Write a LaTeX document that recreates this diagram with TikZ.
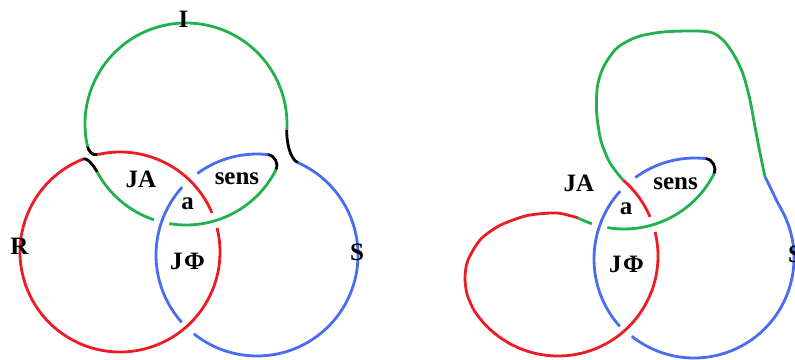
\documentclass[tikz,border=0pt]{standalone}
\usepackage{fontspec}
\setmainfont{Liberation Serif}
\usetikzlibrary{calc}
\definecolor{kr}{HTML}{ED1C24}
\definecolor{kg}{HTML}{22B14C}
\definecolor{kb}{HTML}{4A6CF0}
\begin{document}
\begin{tikzpicture}[x=1pt,y=1pt,line width=2.8pt,
  lbl/.style={font=\fontsize{25}{30}\selectfont\bfseries, inner sep=0pt, anchor=base}]
\clip (0,0) rectangle (795,359);
\fill[white] (0,0) rectangle (795,359);
% ---------- left figure ----------
\coordinate (Rc) at (120,107);
\coordinate (Ic) at (186,235);
\coordinate (Sc) at (257,104);
\coordinate (gA) at ($(Ic)+(193.1:101)$);
\coordinate (gB) at ($(Ic)+(-3.5:101)$);
\coordinate (rA) at ($(Rc)+(103.2:100)$);
\coordinate (rB) at ($(Rc)+(111.7:100)$);
\coordinate (rC) at ($(Rc)+(13.9:100)$);
\coordinate (gC) at ($(Ic)+(208.3:101)$);
\coordinate (gD) at ($(Ic)+(333.2:101)$);
\coordinate (gF) at ($(Ic)+(260.5:101)$);
\coordinate (bA) at ($(Sc)+(66.2:101)$);
\coordinate (bB) at ($(Sc)+(83.8:101)$);
\coordinate (bC) at ($(Sc)+(126.2:101)$);
\coordinate (bD) at ($(Sc)+(221.8:101)$);

\draw[kg] (gA) arc[start angle=193.1, end angle=-3.5, radius=101];
\draw[kr] (rA) arc[start angle=103.2, end angle=23, radius=100];
\draw[kr] (rC) arc[start angle=13.9, end angle=-248.3, radius=100];
\draw[kg] (gC) arc[start angle=208.3, end angle=251.5, radius=101];
\draw[kg] (gF) arc[start angle=260.5, end angle=333.2, radius=101];
\draw[kb] (bA) arc[start angle=66.2, end angle=-128.7, radius=101];
\draw[kb] (bD) arc[start angle=221.8, end angle=137.8, radius=101];
\draw[kb] (bC) arc[start angle=126.2, end angle=83.8, radius=101];

\draw[black] (gA) .. controls +(0.9,-3.9) and +(-4.9,-1.1) .. (rA);
\draw[black] (rB) .. controls +(4.6,1.9) and +(-2.8,5.3) .. (gC);
\draw[black] (gB) .. controls +(-0.5,-10) and +(-8.2,3.6) .. (bA);
\draw[black] (bB) .. controls +(7,-0.8) and +(2.7,5.4) .. (gD);

\node[lbl] (tI) at (183.5,331) {I};
\node[lbl] (tR) at (19.5,104) {R};
\node[lbl] (tS) at (357,99) {S};
\node[lbl] (tJA) at (141,171) {JA};
\node[lbl] (tsens) at (237,174) {sens};
\node[lbl] (ta) at (187.5,149) {a};
\node[lbl] (tJP) at (187.5,89) {J\kern1.5ptΦ};

% ---------- right figure ----------
\coordinate (Rc2) at (558,103);
\coordinate (Ic2) at (624,231);
\coordinate (Sc2) at (695,100);
\coordinate (Sc3) at (694,101);
\coordinate (J1) at ($(Rc2)+(49.5:100)$);
\coordinate (J2) at (765,182);
\coordinate (rC2) at ($(Rc2)+(13.9:100)$);
\coordinate (rE) at ($(Rc2)+(212:100)$);
\coordinate (gE) at ($(Ic2)+(243:101)$);
\coordinate (gF2) at ($(Ic2)+(260.5:101)$);
\coordinate (gD2) at ($(Ic2)+(333.2:101)$);
\coordinate (bB2) at ($(Sc2)+(83.8:101)$);
\coordinate (bC2) at ($(Sc2)+(126.2:101)$);
\coordinate (bD2) at ($(Sc2)+(221.8:101)$);
\coordinate (bE) at ($(Sc3)+(30:100)$);

\draw[kr] (J1) arc[start angle=49.5, end angle=23, radius=100];
\draw[kr] (rC2) arc[start angle=13.9, end angle=-148, radius=100];
\draw[kr] plot[smooth] coordinates {(rE) (467,65) (465,82) (468,99) (480,119) (497,132) (513,139) (530,144) (557,146) (gE)};
\draw[kg] (gE) arc[start angle=243, end angle=251.5, radius=101];
\draw[kg] (gF2) arc[start angle=260.5, end angle=333.2, radius=101];
\draw[kb] (bC2) arc[start angle=126.2, end angle=83.8, radius=101];
\draw[kb] (bD2) arc[start angle=221.8, end angle=137.8, radius=101];
\draw[kb] (J2) .. controls +(4,-7) and +(-5,8.66) .. (bE) arc[start angle=30, end angle=-128.5, radius=100];
\draw[kg] plot[smooth] coordinates {(J1) (610,196) (601,218) (597,242) (596.5,259) (598,276) (604,293) (617,311) (637,322) (663,327) (697,328) (713,326) (724,318) (734,304) (743,285) (750,259) (755,232) (760,206) (J2)};
\draw[black] (bB2) .. controls +(7,-0.8) and +(2.7,5.4) .. (gD2);

\node[lbl] (tJA2) at (579,167) {JA};
\node[lbl] (tsens2) at (675.5,169) {sens};
\node[lbl] (ta2) at (626,144) {a};
\node[lbl] (tJP2) at (626.5,86) {J\kern1.5ptΦ};
\node[lbl] (tS2) at (795,96) {S};
\end{tikzpicture}
\end{document}
